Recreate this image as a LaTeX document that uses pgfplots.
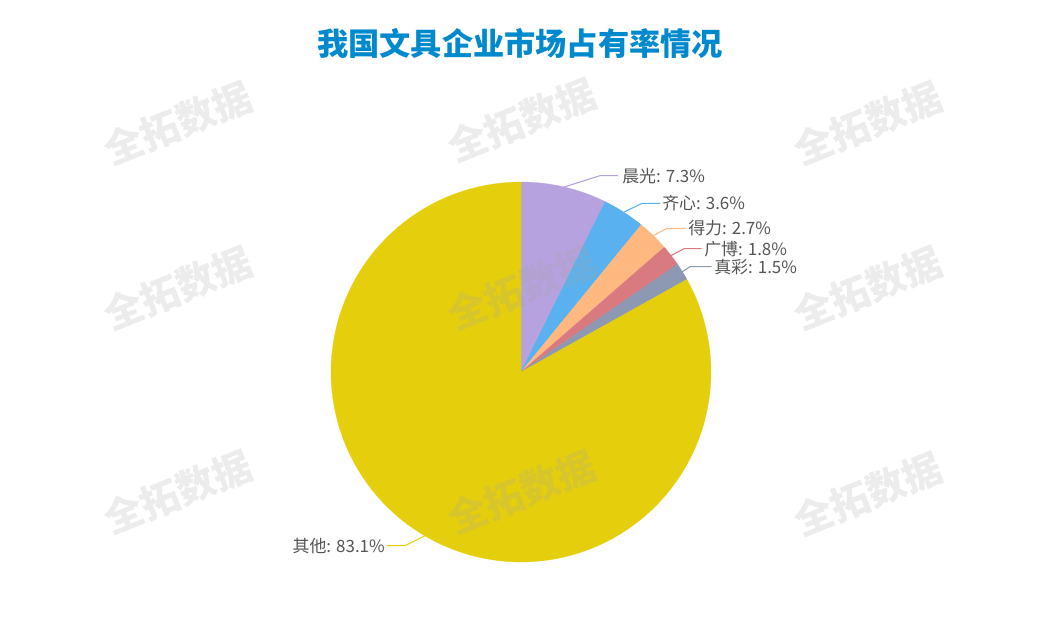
\documentclass[border=0pt]{standalone}
\usepackage{fontspec}
\setmainfont{Noto Sans CJK SC}
\usepackage{pgfplots}
\usepackage{pgfplotstable}
\pgfplotsset{compat=1.18}

\definecolor{c0}{HTML}{B6A2DE}
\definecolor{c1}{HTML}{5AB1EF}
\definecolor{c2}{HTML}{FFB980}
\definecolor{c3}{HTML}{D87A80}
\definecolor{c4}{HTML}{8D98B3}
\definecolor{c5}{HTML}{E5CF0D}
\definecolor{titleblue}{HTML}{008ACD}
\definecolor{labelgray}{HTML}{555555}
\definecolor{wm}{RGB}{164,164,164}

% market share (%), clockwise from 12 o'clock
\pgfplotstableread{
value
7.3
3.6
2.7
1.8
1.5
83.1
}\piedata

\def\cum{0}
\pgfplotsforeachungrouped \k in {0,...,5}{%
  \pgfplotstablegetelem{\k}{value}\of\piedata
  \pgfmathsetmacro\sA{90-\cum*3.6}%
  \pgfmathsetmacro\cum{\cum+\pgfplotsretval}%
  \pgfmathsetmacro\sB{90-\cum*3.6}%
  \pgfmathsetmacro\sM{(\sA+\sB)/2}%
  \expandafter\xdef\csname sa\k\endcsname{\sA}%
  \expandafter\xdef\csname sb\k\endcsname{\sB}%
  \expandafter\xdef\csname sm\k\endcsname{\sM}%
}

\newcommand\pieslice[1]{%
  \edef\tmp{\noexpand\addplot[fill=c#1, draw=c#1, line width=0.2pt,
    domain=\csname sb#1\endcsname:\csname sa#1\endcsname, samples=120,
    variable=\noexpand\t]
    ({521+190*cos(\noexpand\t)},{372-190*sin(\noexpand\t)}) -- (axis cs:521,372) -- cycle;}%
  \tmp}

\newcommand\leader[5]{% idx, elbow x, elbow y, end x, end y
  \draw[c#1, line width=0.8pt]
    (axis cs:{521+190*cos(\csname sm#1\endcsname)},{372-190*sin(\csname sm#1\endcsname)})
    -- (axis cs:#2,#3) -- (axis cs:#4,#5);}

\begin{document}
\begin{tikzpicture}
\begin{axis}[
  x=0.75pt, y=0.75pt,
  xmin=0, xmax=1040, ymin=0, ymax=621,
  y dir=reverse,
  hide axis, clip=false,
  scale only axis,
]
\path (axis cs:0,0) rectangle (axis cs:1040,621);

\pgfplotsinvokeforeach{0,...,5}{\pieslice{#1}}

\leader{0}{600}{175.7}{618}{175.7}
\leader{1}{642}{203.3}{660}{203.3}
\leader{2}{667}{228.3}{686}{228.3}
\leader{3}{684}{248.7}{701.7}{248.7}
\leader{4}{690}{266.7}{711.7}{266.7}
\leader{5}{405}{545.7}{387}{545.7}

\begin{scope}[every node/.style={text=labelgray, inner sep=0pt, font=\fontsize{12.7}{14}\selectfont}]
\node[anchor=west] at (axis cs:622,176) {晨光: 7.3\%};
\node[anchor=west] at (axis cs:662,203.5) {齐心: 3.6\%};
\node[anchor=west] at (axis cs:688,228.5) {得力: 2.7\%};
\node[anchor=west] at (axis cs:704,249) {广博: 1.8\%};
\node[anchor=west] at (axis cs:714,267) {真彩: 1.5\%};
\node[anchor=east] at (axis cs:385,546) {其他: 83.1\%};
\end{scope}

\node[text=titleblue, font=\fontsize{23.4}{26}\selectfont\bfseries] at (axis cs:520,44) {我国文具企业市场占有率情况};

\begin{scope}[every node/.style={rotate=22, text=wm, opacity=0.21, font=\fontsize{29}{30}\selectfont\bfseries}]
\node at (axis cs:178,123) {全拓数据};
\node at (axis cs:522,120) {全拓数据};
\node at (axis cs:868,123) {全拓数据};
\node at (axis cs:178,288) {全拓数据};
\node at (axis cs:522,288) {全拓数据};
\node at (axis cs:868,288) {全拓数据};
\node at (axis cs:178,492) {全拓数据};
\node at (axis cs:522,492) {全拓数据};
\node at (axis cs:868,494) {全拓数据};
\end{scope}
\end{axis}
\end{tikzpicture}
\end{document}
